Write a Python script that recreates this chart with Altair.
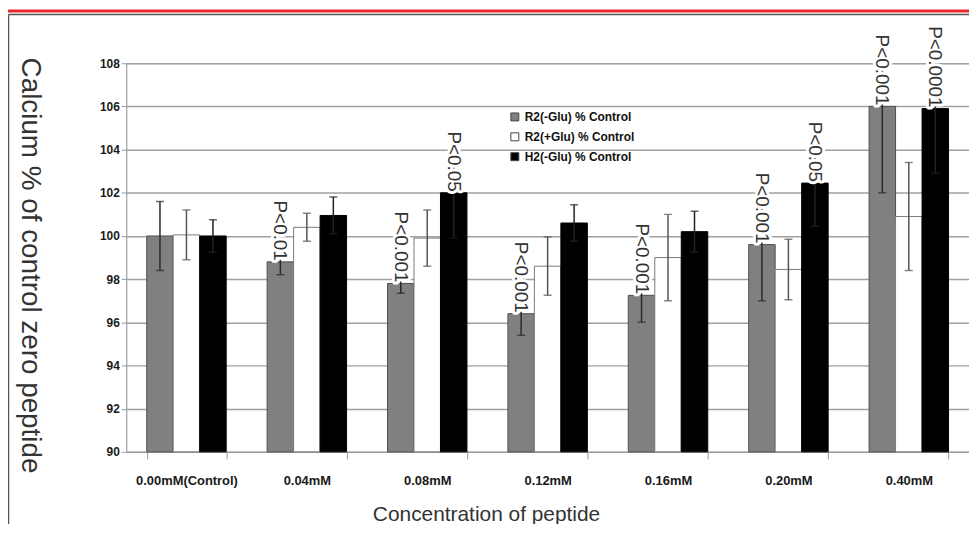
import altair as alt
import pandas as pd

groups = ["0.00mM(Control)", "0.04mM", "0.08mM", "0.12mM", "0.16mM", "0.20mM", "0.40mM"]
series = ["R2(-Glu) % Control", "R2(+Glu) % Control", "H2(-Glu) % Control"]

r2_minus = [100.0, 98.8, 97.8, 96.4, 97.25, 99.6, 106.0]
r2_minus_err = [1.6, 0.6, 0.45, 1.0, 1.25, 2.6, 4.0]
r2_plus = [100.05, 100.4, 99.9, 98.6, 99.0, 98.45, 100.9]
r2_plus_err = [1.15, 0.65, 1.3, 1.35, 2.0, 1.4, 2.5]
h2_minus = [100.0, 100.95, 102.0, 100.6, 100.2, 102.45, 105.9]
h2_minus_err = [0.75, 0.85, 2.1, 0.85, 0.95, 2.0, 3.0]

p_groups = ["0.04mM", "0.08mM", "0.08mM", "0.12mM", "0.16mM", "0.20mM", "0.20mM", "0.40mM", "0.40mM"]
p_series = [0, 0, 2, 0, 0, 0, 2, 0, 2]
p_texts = ["P<0.01", "P<0.001", "P<0.05", "P<0.001", "P<0.001", "P<0.001", "P<0.05", "P<0.001", "P<0.0001"]

y_ticks = [90, 92, 94, 96, 98, 100, 102, 104, 106, 108]

fills = ["#808080", "#ffffff", "#000000"]
strokes = ["#505050", "#7a7a7a", "#000000"]
err_colors = ["#2a2a2a", "#555555", "#222222"]

FONT = "Liberation Sans"

vals = [r2_minus, r2_plus, h2_minus]
errs = [r2_minus_err, r2_plus_err, h2_minus_err]
rows = []
for si, s in enumerate(series):
    for gi, g in enumerate(groups):
        rows.append({"group": g, "series": s, "value": vals[si][gi],
                     "lo": vals[si][gi] - errs[si][gi], "hi": vals[si][gi] + errs[si][gi]})
df = pd.DataFrame(rows)

prow = []
for g, si, t in zip(p_groups, p_series, p_texts):
    prow.append({"group": g, "series": series[si], "value": vals[si][groups.index(g)], "label": t})
pdf = pd.DataFrame(prow)

W, H = 848, 391

x_enc = alt.X("group:N", sort=groups,
              scale=alt.Scale(paddingInner=0.34, paddingOuter=0.17),
              axis=alt.Axis(title="Concentration of peptide", labelAngle=0, tickBand="extent",
                            tickSize=7, tickColor="#999999", domainColor="#999999",
                            labelFont=FONT, labelFontSize=13, labelFontWeight="bold",
                            labelColor="#1a1a1a", labelPadding=16,
                            titleFont=FONT, titleFontSize=21, titleFontWeight="normal",
                            titleColor="#333333", titleX=362, titleY=69,
                            titleAlign="center", titleBaseline="alphabetic"))
xo_enc = alt.XOffset("series:N", sort=series, scale=alt.Scale(paddingInner=0, paddingOuter=0))
y_scale = alt.Scale(domain=[90, 108], zero=False, nice=False)

bars = alt.Chart(df).mark_bar(strokeWidth=1).encode(
    x=x_enc,
    xOffset=xo_enc,
    y=alt.Y("value:Q", scale=y_scale,
            axis=alt.Axis(values=y_ticks, title="Calcium % of control zero peptide",
                          titleAngle=90, titleX=-105, titleY=203, titleAlign="center",
                          titleBaseline="alphabetic", titleFont=FONT, titleFontSize=28,
                          titleFontWeight="normal", titleColor="#333333",
                          grid=True, gridColor="#a0a0a0", gridWidth=1.5,
                          tickSize=5, tickColor="#999999", domainColor="#999999",
                          labelFont=FONT, labelFontSize=12, labelFontWeight="bold",
                          labelColor="#1a1a1a", labelPadding=2)),
    y2=alt.datum(90),
    color=alt.Color("series:N", scale=alt.Scale(domain=series, range=fills),
                    legend=alt.Legend(title=None, orient="none", legendX=385, legendY=48,
                                      symbolType="square", symbolSize=64,
                                      symbolStrokeColor="#444444", symbolStrokeWidth=1,
                                      labelFont=FONT, labelFontSize=12, labelFontWeight="bold",
                                      labelColor="#111111", rowPadding=8, labelOffset=4,
                                      padding=0)),
    stroke=alt.Stroke("series:N", scale=alt.Scale(domain=series, range=strokes), legend=None),
)

err_rule = alt.Chart(df).mark_rule(strokeWidth=1.5, clip=True).encode(
    x=alt.X("group:N", sort=groups),
    xOffset=xo_enc,
    y=alt.Y("lo:Q", scale=y_scale),
    y2="hi:Q",
    color=alt.Color("series:N", scale=alt.Scale(domain=series, range=err_colors), legend=None),
)
cap_lo = alt.Chart(df).mark_tick(orient="horizontal", size=8, thickness=1.5, clip=True).encode(
    x=alt.X("group:N", sort=groups),
    xOffset=xo_enc,
    y=alt.Y("lo:Q", scale=y_scale),
    color=alt.Color("series:N", scale=alt.Scale(domain=series, range=err_colors), legend=None),
)
cap_hi = alt.Chart(df).mark_tick(orient="horizontal", size=8, thickness=1.5, clip=True).encode(
    x=alt.X("group:N", sort=groups),
    xOffset=xo_enc,
    y=alt.Y("hi:Q", scale=y_scale),
    color=alt.Color("series:N", scale=alt.Scale(domain=series, range=err_colors), legend=None),
)

p_halo = alt.Chart(pdf).mark_text(angle=90, align="right", baseline="middle", dx=-1,
                                  font=FONT, fontSize=19, color="white",
                                  stroke="white", strokeWidth=6, strokeJoin="round").encode(
    x=alt.X("group:N", sort=groups),
    xOffset=xo_enc,
    y=alt.Y("value:Q", scale=y_scale),
    text="label:N",
)
plabels = alt.Chart(pdf).mark_text(angle=90, align="right", baseline="middle", dx=-1,
                                   font=FONT, fontSize=19, color="#333333").encode(
    x=alt.X("group:N", sort=groups),
    xOffset=xo_enc,
    y=alt.Y("value:Q", scale=y_scale),
    text="label:N",
)

one = pd.DataFrame({"a": [0]})
red_line = alt.Chart(one).mark_rule(color="#e8262b", strokeWidth=3).encode(
    x=alt.value(-119), x2=alt.value(W), y=alt.value(-52.5))
box_top = alt.Chart(one).mark_rule(color="#555555", strokeWidth=1.5).encode(
    x=alt.value(-118.5), x2=alt.value(W), y=alt.value(-49))
box_left = alt.Chart(one).mark_rule(color="#555555", strokeWidth=1.5).encode(
    x=alt.value(-118.5), y=alt.value(-49), y2=alt.value(H + 80))

chart = alt.layer(bars, err_rule, cap_lo, cap_hi, p_halo, plabels, red_line, box_top, box_left).resolve_scale(
    color="independent"
).properties(
    width=W, height=H,
    autosize=alt.AutoSizeParams(type="none"),
    padding={"left": 119, "top": 54, "right": 0, "bottom": 71},
).configure_view(stroke=None).configure(background="white")

chart.save("out.html", embed_options={"renderer": "svg", "actions": False})
